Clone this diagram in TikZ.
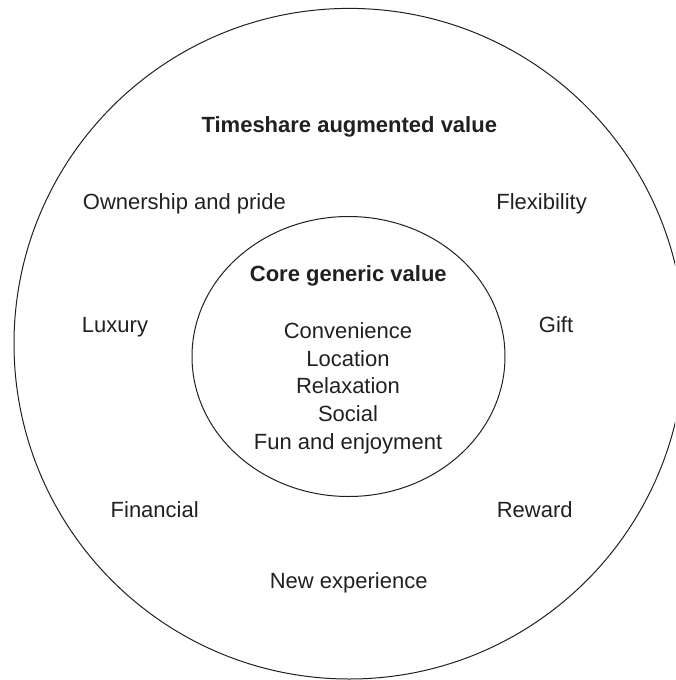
\documentclass[tikz,border=0pt]{standalone}
\usepackage{fontspec}
\setmainfont{Liberation Sans}
\definecolor{ink}{HTML}{231F20}
\begin{document}
\begin{tikzpicture}[x=1pt,y=-1pt,
  ring/.style={draw=ink,line width=1pt},
  lbl/.style={anchor=base,inner sep=0pt,text=ink,font=\fontsize{22}{27.8}\selectfont},
  head/.style={lbl,font=\fontsize{22}{27.8}\selectfont\bfseries}]
  \useasboundingbox (0,0) rectangle (675,680);
  \clip (0,0) rectangle (675,680);
  % outer ring: augmented value
  \draw[ring] (349.3,343.7) circle [radius=335.3];
  % inner ellipse: core value
  \draw[ring] (348.5,356.5) ellipse [x radius=156.5, y radius=140];

  \node[head] (aug) at (349.3,132.9) {Timeshare augmented value};
  \node[lbl] (own) at (184.4,209) {Ownership and pride};
  \node[lbl] (flex) at (541.6,209) {Flexibility};
  \node[lbl] (lux) at (115,332) {Luxury};
  \node[lbl] (gift) at (556,332) {Gift};
  \node[lbl] (fin) at (154.7,517.3) {Financial};
  \node[lbl] (rew) at (534.7,517.3) {Reward};
  \node[lbl] (newx) at (348.7,588.3) {New experience};

  \node[head] (core) at (348.3,281.7) {Core generic value};
  \node[lbl] (c1) at (348,338.3) {Convenience};
  \node[lbl] (c2) at (348,366) {Location};
  \node[lbl] (c3) at (348,393.8) {Relaxation};
  \node[lbl] (c4) at (348,421.6) {Social};
  \node[lbl] (c5) at (348,449.4) {Fun and enjoyment};
\end{tikzpicture}
\end{document}
